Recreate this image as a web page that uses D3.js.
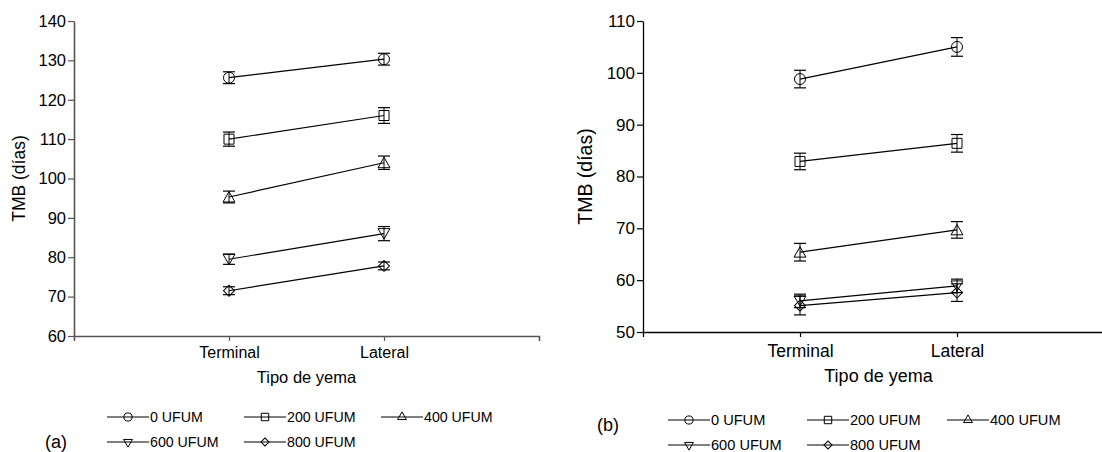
<!DOCTYPE html>
<html>
<head>
  <script src="https://d3js.org/d3.v7.min.js"></script>
  <style>
    body { margin: 0; background: #fff; }
    text { font-family: Arial, "Liberation Sans", sans-serif; fill: #000; }
  </style>
</head>
<body>
  <svg id="canvas" width="1102" height="452"></svg>
  <script>
    const svg = d3.select("#canvas");

    // data
    const tipos = ["Terminal", "Lateral"];
    const dosis = ["0 UFUM", "200 UFUM", "400 UFUM", "600 UFUM", "800 UFUM"];

    const mediasA = [[125.6, 130.3], [110.0, 116.0], [95.3, 104.0], [79.5, 86.0], [71.5, 77.8]];
    const errA    = [[1.5, 1.5], [1.8, 2.0], [1.5, 1.7], [1.3, 1.8], [1.0, 1.0]];
    const ticksA  = [60, 70, 80, 90, 100, 110, 120, 130, 140];

    const mediasB = [[98.8, 105.0], [82.9, 86.4], [65.4, 69.7], [56.0, 58.9], [55.1, 57.6]];
    const errB    = [[1.7, 1.8], [1.6, 1.7], [1.7, 1.6], [1.3, 1.3], [1.8, 1.7]];
    const ticksB  = [50, 60, 70, 80, 90, 100, 110];

    // marker shapes, one per dose
    const shapes = [
      { type: d3.symbolCircle, size: 95, rot: 0 },
      { type: d3.symbolSquare, size: 100, rot: 0 },
      { type: d3.symbolTriangle, size: 62, rot: 0 },
      { type: d3.symbolTriangle, size: 62, rot: 180 },
      { type: d3.symbolSquare, size: 60, rot: 45 }
    ];

    const panels = [
      {
        medias: mediasA, err: errA, ticks: ticksA, label: "(a)",
        x0: 74, x1: 539, y0: 336, y1: 21, axisColor: "#555", axisW: 1.6,
        tickFont: 16.5, labelFont: 16, titleFont: 16.5, ylabFont: 17.5, legFont: 14.2,
        ylabX: 19, xlabPad: 6, titleY: 377,
        legX: [107, 244, 381], legY: [417, 442], legLine: 42, labPos: [56, 442]
      },
      {
        medias: mediasB, err: errB, ticks: ticksB, label: "(b)",
        x0: 643, x1: 1114, y0: 332, y1: 21, axisColor: "#000", axisW: 1.3,
        tickFont: 17, labelFont: 17.5, titleFont: 18, ylabFont: 19.5, legFont: 14.6,
        ylabX: 585, xlabPad: 8, titleY: 376,
        legX: [668, 807, 947], legY: [420, 445], legLine: 42, labPos: [608, 425]
      }
    ];

    panels.forEach(p => {
      const g = svg.append("g");
      const x = d3.scaleLinear().domain([0, 3]).range([p.x0, p.x1]);
      const y = d3.scaleLinear().domain([p.ticks[0], p.ticks[p.ticks.length - 1]]).range([p.y0, p.y1]);

      // y axis
      const ya = g.append("g")
        .attr("transform", `translate(${p.x0},0)`)
        .call(d3.axisLeft(y).tickValues(p.ticks).tickSize(6).tickPadding(2).tickSizeOuter(0));
      ya.selectAll("text").style("font-size", p.tickFont + "px").attr("fill", "#000");

      // x axis
      const xa = g.append("g")
        .attr("transform", `translate(0,${p.y0})`)
        .call(d3.axisBottom(x).tickValues([1, 2]).tickFormat((d, i) => tipos[i]).tickSize(5).tickPadding(p.xlabPad).tickSizeOuter(5));
      xa.selectAll("text").style("font-size", p.labelFont + "px").attr("fill", "#000");

      [ya, xa].forEach(a => {
        a.select(".domain").attr("stroke", p.axisColor).attr("stroke-width", p.axisW);
        a.selectAll(".tick line").attr("stroke", p.axisColor).attr("stroke-width", 1.2);
      });

      // titles
      g.append("text")
        .attr("transform", `translate(${p.ylabX},${(p.y0 + p.y1) / 2}) rotate(-90)`)
        .attr("text-anchor", "middle").attr("dominant-baseline", "central")
        .style("font-size", p.ylabFont + "px")
        .text("TMB (días)");
      g.append("text")
        .attr("x", x(1.5)).attr("y", p.titleY)
        .attr("text-anchor", "middle").attr("dominant-baseline", "central")
        .style("font-size", p.titleFont + "px")
        .text("Tipo de yema");
      g.append("text")
        .attr("x", p.labPos[0]).attr("y", p.labPos[1])
        .attr("text-anchor", "middle").attr("dominant-baseline", "central")
        .style("font-size", "18px")
        .text(p.label);

      // series
      const line = d3.line().x((d, i) => x(i + 1)).y(d => y(d));
      p.medias.forEach((vals, s) => {
        const sg = g.append("g");
        sg.append("path")
          .attr("d", line(vals))
          .attr("fill", "none").attr("stroke", "#000").attr("stroke-width", 1.2);

        vals.forEach((v, i) => {
          const cx = x(i + 1), e = p.err[s][i];
          sg.append("line")
            .attr("x1", cx).attr("x2", cx).attr("y1", y(v - e)).attr("y2", y(v + e))
            .attr("stroke", "#000").attr("stroke-width", 1);
          [v - e, v + e].forEach(c => {
            sg.append("line")
              .attr("x1", cx - 6).attr("x2", cx + 6).attr("y1", y(c)).attr("y2", y(c))
              .attr("stroke", "#000").attr("stroke-width", 1.2);
          });
          sg.append("path")
            .attr("d", d3.symbol().type(shapes[s].type).size(shapes[s].size)())
            .attr("transform", `translate(${cx},${y(v) + (s === 2 ? 1.5 : s === 3 ? -1.5 : 0)}) rotate(${shapes[s].rot})`)
            .attr("fill", "none").attr("stroke", "#000").attr("stroke-width", 1);
        });
      });

      // legend
      dosis.forEach((name, s) => {
        const col = s < 3 ? s : s - 3;
        const row = s < 3 ? 0 : 1;
        const lx = p.legX[col], ly = p.legY[row];
        const lg = g.append("g");
        lg.append("line")
          .attr("x1", lx).attr("x2", lx + p.legLine).attr("y1", ly).attr("y2", ly)
          .attr("stroke", "#000").attr("stroke-width", 1);
        lg.append("path")
          .attr("d", d3.symbol().type(shapes[s].type).size(shapes[s].size * 0.55)())
          .attr("transform", `translate(${lx + p.legLine / 2},${ly}) rotate(${shapes[s].rot})`)
          .attr("fill", "none").attr("stroke", "#000").attr("stroke-width", 1);
        lg.append("text")
          .attr("x", lx + p.legLine + 1).attr("y", ly)
          .attr("dominant-baseline", "central")
          .style("font-size", p.legFont + "px")
          .text(name);
      });
    });
  </script>
</body>
</html>
